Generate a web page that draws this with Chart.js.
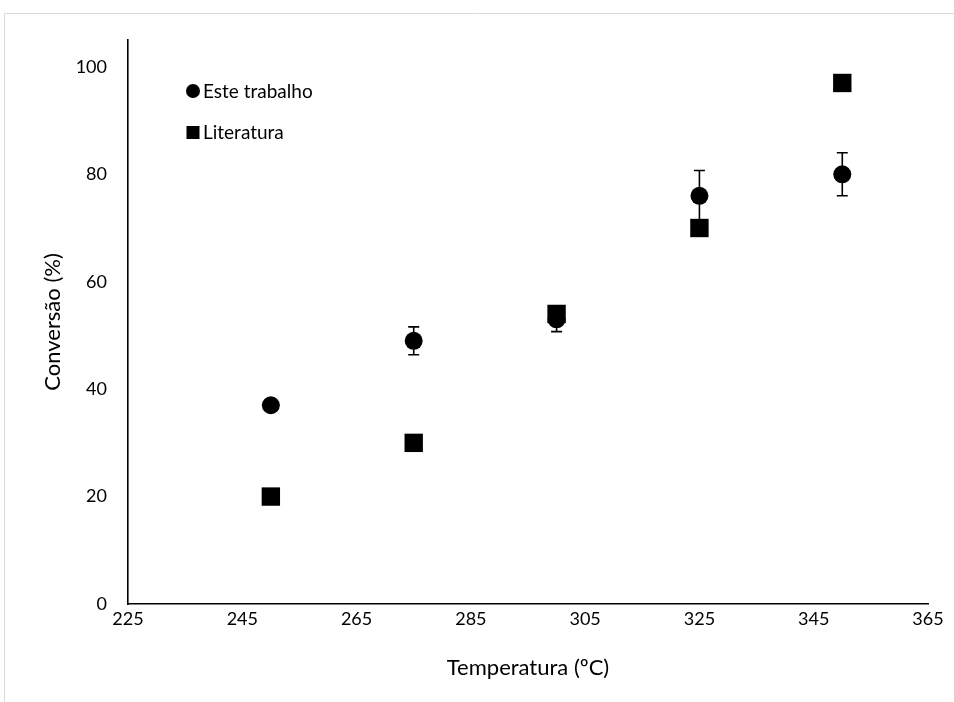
<!DOCTYPE html>
<html>
<head>
<meta charset="utf-8">
<script src="https://cdn.jsdelivr.net/npm/chart.js@4.4.0/dist/chart.umd.min.js"></script>
<style>
  html, body { margin: 0; padding: 0; background: #fff; }
  #wrap { width: 954px; height: 702px; }
</style>
</head>
<body>
<div id="wrap"><canvas id="scatter-chart" width="954" height="702"></canvas></div>
<script>
(function(Chart) {
    var temperaturas = [250, 275, 300, 325, 350];
    var esteTrabalho = [37, 49, 53, 76, 80];
    var esteErro = [0.6, 2.6, 2.3, 4.7, 4];
    var literatura = [20, 30, 54, 70, 97];
    var yTicks = [0, 20, 40, 60, 80, 100];
    var xTicks = [225, 245, 265, 285, 305, 325, 345, 365];

    var fonte = 'Lato';

    function pontos(ys) {
        return temperaturas.map(function(t, i) { return {x: t, y: ys[i]}; });
    }

    // error bars + frame + legend
    var extras = {
        id: 'extras',
        beforeDraw: function(chart) {
            var ctx = chart.ctx;
            ctx.save();
            ctx.strokeStyle = '#d9d9d9';
            ctx.lineWidth = 1;
            ctx.beginPath();
            ctx.moveTo(4.5, 702);
            ctx.lineTo(4.5, 13.5);
            ctx.lineTo(954, 13.5);
            ctx.stroke();
            ctx.restore();
        },
        beforeDatasetsDraw: function(chart) {
            var ctx = chart.ctx;
            var xs = chart.scales.x, ys = chart.scales.y;
            ctx.save();
            ctx.strokeStyle = '#000';
            ctx.lineWidth = 1.6;
            temperaturas.forEach(function(t, i) {
                var px = xs.getPixelForValue(t);
                var top = ys.getPixelForValue(esteTrabalho[i] + esteErro[i]);
                var bot = ys.getPixelForValue(esteTrabalho[i] - esteErro[i]);
                ctx.beginPath();
                ctx.moveTo(px, top); ctx.lineTo(px, bot);
                ctx.moveTo(px - 5.5, top); ctx.lineTo(px + 5.5, top);
                ctx.moveTo(px - 5.5, bot); ctx.lineTo(px + 5.5, bot);
                ctx.stroke();
            });
            ctx.restore();
        },
        afterDraw: function(chart) {
            var ctx = chart.ctx;
            var a = chart.chartArea;
            var lx = a.left + 65, ly = a.top + 51;
            ctx.save();
            ctx.fillStyle = '#000';
            ctx.beginPath();
            ctx.arc(lx, ly, 7, 0, Math.PI * 2);
            ctx.fill();
            ctx.fillRect(lx - 6.5, ly + 35, 13, 13);
            ctx.font = '19px ' + fonte;
            ctx.textBaseline = 'middle';
            ctx.fillText(chart.data.datasets[0].label, lx + 10, ly + 1);
            ctx.fillText(chart.data.datasets[1].label, lx + 10, ly + 42);
            ctx.restore();
        }
    };

    Chart.defaults.font.family = fonte;
    Chart.defaults.font.size = 18;
    Chart.defaults.color = '#000';

    var chart = new Chart(document.getElementById('scatter-chart'), {
        type: 'scatter',
        data: {
            datasets: [{
                label: 'Este trabalho',
                data: pontos(esteTrabalho),
                pointStyle: 'circle',
                pointRadius: 9,
                pointHoverRadius: 9,
                backgroundColor: '#000',
                borderColor: '#000',
                borderWidth: 0
            }, {
                label: 'Literatura',
                data: pontos(literatura),
                pointStyle: 'rect',
                pointRadius: 13,
                pointHoverRadius: 13,
                backgroundColor: '#000',
                borderColor: '#000',
                borderWidth: 0
            }]
        },
        options: {
            responsive: false,
            animation: false,
            layout: {padding: {left: 0, top: 40, right: 26, bottom: 0}},
            plugins: {legend: {display: false}, tooltip: {enabled: false}},
            scales: {
                x: {
                    type: 'linear',
                    min: xTicks[0],
                    max: xTicks[xTicks.length - 1],
                    afterBuildTicks: function(s) { s.ticks = xTicks.map(function(v) { return {value: v}; }); },
                    grid: {display: false, drawTicks: false},
                    border: {color: '#000', width: 1.6},
                    ticks: {padding: 4, font: {size: 18}},
                    title: {display: true, text: 'Temperatura (ºC)', font: {size: 22}, padding: {top: 0, bottom: 21}},
                    afterFit: function(s) { s.height = 98; }
                },
                y: {
                    type: 'linear',
                    min: 0,
                    max: 105,
                    afterBuildTicks: function(s) { s.ticks = yTicks.map(function(v) { return {value: v}; }); },
                    grid: {display: false, drawTicks: false},
                    border: {color: '#000', width: 1.6},
                    ticks: {padding: 21, font: {size: 18}},
                    title: {display: true, text: 'Conversão (%)', font: {size: 22}, padding: {top: 40, bottom: 0}},
                    afterFit: function(s) { s.width = 128; }
                }
            }
        },
        plugins: [extras]
    });
})(Chart);
</script>
</body>
</html>
